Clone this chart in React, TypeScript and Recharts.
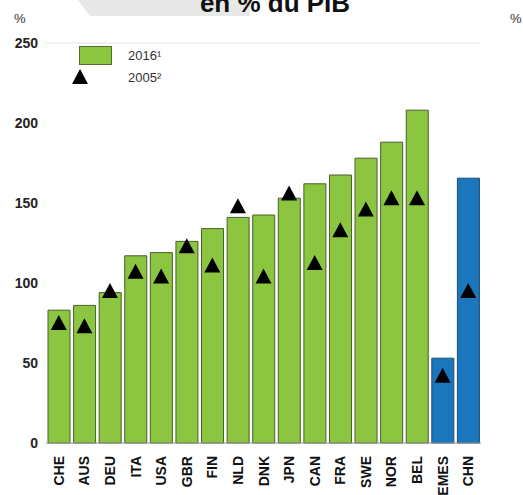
import {
  Bar,
  CartesianGrid,
  Cell,
  ComposedChart,
  Line,
  XAxis,
  YAxis,
} from "recharts";

const countries = [
  "CHE", "AUS", "DEU", "ITA", "USA", "GBR", "FIN", "NLD", "DNK",
  "JPN", "CAN", "FRA", "SWE", "NOR", "BEL", "EMES", "CHN",
];
const debt2016 = [
  83, 86, 94, 117, 119, 126, 134, 141, 142.5,
  153, 162, 167.5, 178, 188, 208, 53, 165.5,
];
const debt2005 = [
  75, 73, 95, 107, 104, 123, 111, 148, 104,
  156, 112.5, 133, 146, 153, 153, 42, 95,
];
const emerging = ["EMES", "CHN"];
const yTicks = [0, 50, 100, 150, 200, 250];

const data = countries.map((c, i) => ({
  country: c,
  v2016: debt2016[i],
  v2005: debt2005[i],
}));

const GREEN = "#8cc641";
const BLUE = "#1b77bd";
const FONT = "'Liberation Sans', Arial, sans-serif";

function Triangle(props: any) {
  const { cx, cy } = props;
  if (cx == null || cy == null) return null;
  return (
    <path
      d={`M${cx},${cy - 8} L${cx + 8},${cy + 7} L${cx - 8},${cy + 7} Z`}
      fill="#000"
    />
  );
}

function CountryTick(props: any) {
  const { x, y, payload } = props;
  return (
    <text
      transform={`translate(${x},${y + 5}) rotate(-90)`}
      textAnchor="end"
      dy="0.36em"
      fontSize={14}
      fontWeight="bold"
      fill="#111"
      fontFamily={FONT}
    >
      {payload.value}
    </text>
  );
}

// legend drawn by hand so it doesn't push the plot down
function LegendBox() {
  return (
    <div
      style={{
        position: "absolute",
        left: 71,
        top: 44,
        fontFamily: FONT,
        fontSize: 13,
        color: "#333",
      }}
    >
      <div style={{ display: "flex", alignItems: "center", height: 22 }}>
        <span
          style={{
            width: 31,
            height: 17,
            background: GREEN,
            border: "1px solid #556b2f",
            marginLeft: 8,
            marginRight: 16,
          }}
        />
        <span>2016¹</span>
      </div>
      <div style={{ display: "flex", alignItems: "center", height: 22 }}>
        <svg width={57} height={18}>
          <path d="M9,1 L17,16 L1,16 Z" fill="#000" />
        </svg>
        <span>2005²</span>
      </div>
    </div>
  );
}

export default function App() {
  return (
    <div
      style={{
        position: "absolute",
        left: 0,
        top: 0,
        width: 523,
        height: 495,
        overflow: "hidden",
        background: "#fff",
      }}
    >
      <ComposedChart
        width={523}
        height={495}
        data={data}
        margin={{ top: 43, right: 0, bottom: 0, left: 0 }}
        barCategoryGap={2}
        style={{ position: "absolute", left: 0, top: 0 }}
      >
        <CartesianGrid vertical={false} stroke="#e4e4e4" />
        <XAxis
          dataKey="country"
          height={52}
          interval={0}
          tick={<CountryTick />}
          tickLine={false}
          axisLine={{ stroke: "#999" }}
        />
        <YAxis
          yAxisId="left"
          orientation="left"
          width={46}
          domain={[0, 250]}
          ticks={yTicks}
          tickLine={false}
          axisLine={false}
          tick={{ fontSize: 14, fontWeight: "bold", fill: "#222", fontFamily: FONT }}
        />
        <YAxis
          yAxisId="right"
          orientation="right"
          width={42}
          domain={[0, 250]}
          ticks={yTicks}
          tickLine={false}
          axisLine={false}
          tick={{ fontSize: 14, fontWeight: "bold", fill: "#222", fontFamily: FONT }}
        />
        <Bar
          yAxisId="left"
          dataKey="v2016"
          name="2016¹"
          isAnimationActive={false}
        >
          {data.map((d) => (
            <Cell
              key={d.country}
              fill={emerging.includes(d.country) ? BLUE : GREEN}
              stroke={emerging.includes(d.country) ? "#1f4a6e" : "#4a5e2a"}
              strokeWidth={1}
            />
          ))}
        </Bar>
        <Line
          yAxisId="left"
          dataKey="v2005"
          name="2005²"
          stroke="none"
          dot={<Triangle />}
          activeDot={false}
          isAnimationActive={false}
        />
      </ComposedChart>
      <svg
        width={523}
        height={30}
        style={{ position: "absolute", left: 0, top: 0 }}
      >
        <polygon points="78,0 250,0 250,16 90,16" fill="#e8e8e8" />
        <text
          x={275}
          y={12}
          textAnchor="middle"
          fontSize={26}
          fontWeight="bold"
          fill="#111"
          fontFamily={FONT}
        >
          en % du PIB
        </text>
        <text x={14} y={23} fontSize={13} fill="#333" fontFamily={FONT}>
          %
        </text>
        <text x={510} y={23} fontSize={13} fill="#333" fontFamily={FONT}>
          %
        </text>
      </svg>
      <LegendBox />
    </div>
  );
}
